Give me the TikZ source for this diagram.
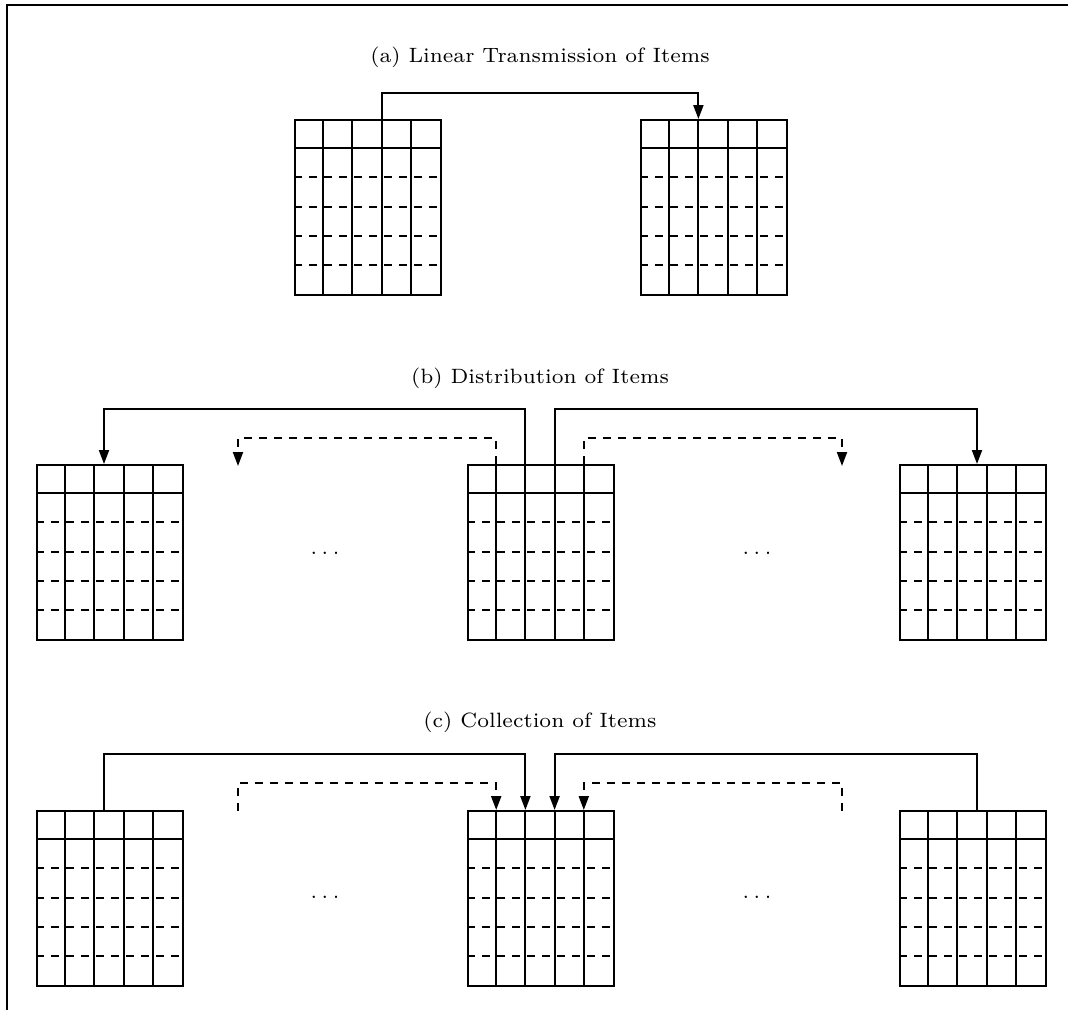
\documentclass[tikz,border=0pt]{standalone}
\usepackage{graphicx}
\usetikzlibrary{arrows.meta,calc}
\tikzset{
  frameline/.style={line width=2pt},
  tline/.style={line width=2pt},
  dline/.style={line width=2pt, dash pattern=on 8pt off 7pt},
  conn/.style={line width=2pt, -{Triangle[length=14pt,width=10pt]}},
  dconn/.style={conn, dash pattern=on 8pt off 7pt},
  tablebox/.style={draw, line width=2pt, rectangle, minimum width=146pt, minimum height=175pt, inner sep=0pt, anchor=north west},
  titletext/.style={inner sep=0pt},
  dotstext/.style={inner sep=0pt},
}
\newcommand\smalltxt[1]{\scalebox{2.96}{\fontsize{7}{8}\selectfont #1}}
\newcommand\mktable[3]{%
  \node[tablebox] (#1) at (#2,#3) {};
  \foreach \i in {1,...,4} {\draw[tline] (#2+\i*29.2,#3) -- (#2+\i*29.2,#3+175);}
  \draw[tline] (#2,#3+29.17) -- (#2+146,#3+29.17);
  \foreach \j in {2,...,5} {\draw[dline] (#2,#3+\j*29.17) -- (#2+146,#3+\j*29.17);}
}
\begin{document}
\begin{tikzpicture}[x=1pt,y=-1pt]
\useasboundingbox (0,0) rectangle (1068,1010);
\draw[frameline] (7,1010) -- (7,5) -- (1068,5);

% (a)
\node[titletext] (ta) at (540,57) {\smalltxt{(a) Linear Transmission of Items}};
\mktable{a1}{294}{119}
\mktable{a2}{640}{119}
\draw[conn] ([xshift=88pt]a1.north west) -- ++(0,-26) -| ([xshift=58.4pt]a2.north west);

% (b)
\node[titletext] (tb) at (540,378) {\smalltxt{(b) Distribution of Items}};
\mktable{b1}{36}{464}
\mktable{b2}{467}{464}
\mktable{b3}{899}{464}
\node[dotstext] (bd1) at (325,553) {\smalltxt{$\ldots$}};
\node[dotstext] (bd2) at (757,553) {\smalltxt{$\ldots$}};
\draw[conn] ([xshift=58.4pt]b2.north west) -- ++(0,-55) -| ([xshift=68pt]b1.north west);
\draw[conn] ([xshift=87.6pt]b2.north west) -- ++(0,-55) -| ([xshift=78pt]b3.north west);
\coordinate (bl) at (238,466);
\coordinate (br) at (842,466);
\draw[dconn] ([xshift=29.2pt]b2.north west) -- ++(0,-26) -| (bl);
\draw[dconn] ([xshift=116.8pt]b2.north west) -- ++(0,-26) -| (br);

% (c)
\node[titletext] (tc) at (540,722) {\smalltxt{(c) Collection of Items}};
\mktable{c1}{36}{810}
\mktable{c2}{467}{810}
\mktable{c3}{899}{810}
\node[dotstext] (cd1) at (325,897) {\smalltxt{$\ldots$}};
\node[dotstext] (cd2) at (757,897) {\smalltxt{$\ldots$}};
\draw[conn] ([xshift=68pt]c1.north west) -- ++(0,-56) -| ([xshift=58.4pt]c2.north west);
\draw[conn] ([xshift=78pt]c3.north west) -- ++(0,-56) -| ([xshift=87.6pt]c2.north west);
\coordinate (cl) at (238,811);
\coordinate (cr) at (842,811);
\draw[dconn] (cl) -- ++(0,-28) -| ([xshift=29.2pt]c2.north west);
\draw[dconn] (cr) -- ++(0,-28) -| ([xshift=116.8pt]c2.north west);
\end{tikzpicture}
\end{document}
